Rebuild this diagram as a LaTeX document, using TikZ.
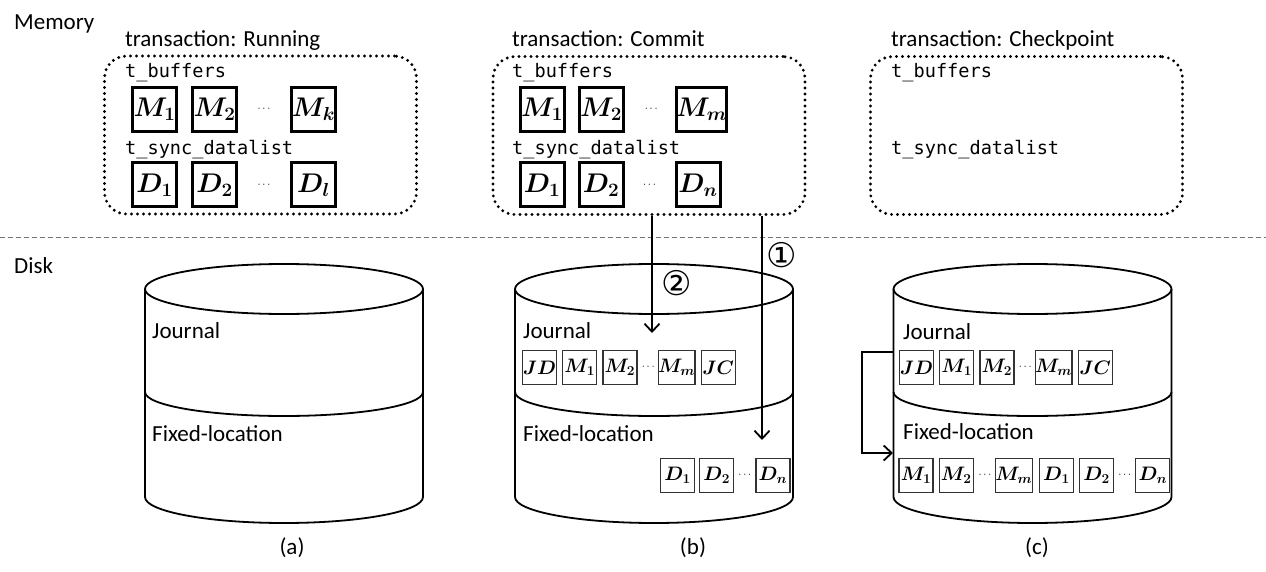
\RequirePackage{fix-cm}
\documentclass[tikz,border=0pt]{standalone}
\usepackage{bm}
\usepackage{fontspec}
\setmainfont{Carlito}
\newfontfamily\codefont{DejaVu Sans Mono}
\newfontfamily\symfont{DejaVu Sans}
\usetikzlibrary{positioning,calc,arrows.meta}

\begin{document}
\begin{tikzpicture}[x=1pt,y=-1pt,
  every node/.style={inner sep=0pt},
  txt/.style={anchor=base west,font=\fontsize{23}{27}\selectfont},
  mono/.style={anchor=base west,font=\codefont\fontsize{18.6}{22}\selectfont},
  tbox/.style={draw,line width=3.2pt,line cap=round,dash pattern=on 0pt off 6pt,
    rounded corners=22pt,minimum width=312pt,minimum height=158pt},
  mbox/.style={draw,line width=3pt,minimum size=44pt,font=\fontsize{27}{30}\selectfont},
  dbox/.style={draw=black!80,line width=1.2pt,minimum size=34pt,font=\fontsize{19.5}{22}\selectfont},
  dots/.style={font=\fontsize{11}{13}\selectfont},
  cyl/.style={line width=1.8pt},
  flowarrow/.style={line width=1.8pt,-{Straight Barb[length=8pt,width=15pt,line width=1.8pt]}},
  ]
  \useasboundingbox (0,0) rectangle (1266,572);

  % memory / disk
  \node[txt] (memlabel) at (14,30) {Memory};
  \node[txt] (disklabel) at (14,273) {Disk};
  \draw[black!55,line width=1pt,dash pattern=on 5pt off 3pt] (0,237) -- (1266,237);

  % (a) running
  \node[tbox] (mema) at (260.5,135) {};
  \node[txt] at (125,47) {transaction: Running};
  \node[mono] at (125,78) {t\_buffers};
  \node[mono] at (125,155) {t\_sync\_datalist};
  \node[mbox] (ma1) at (154.5,109.5) {$\bm{M_1}$};
  \node[mbox,right=13pt of ma1] (ma2) {$\bm{M_2}$};
  \node[mbox,right=52pt of ma2] (mak) {$\bm{M_k}$};
  \node[dots] at ($(ma2)!.5!(mak)$) {$\cdots$};
  \node[mbox] (da1) at (154.5,185) {$\bm{D_1}$};
  \node[mbox,right=13pt of da1] (da2) {$\bm{D_2}$};
  \node[mbox,right=52pt of da2] (dal) {$\bm{D_l}$};
  \node[dots] at ($(da2)!.5!(dal)$) {$\cdots$};

  % (b) commit
  \node[tbox] (memb) at (649,135.5) {};
  \node[txt] at (512,47) {transaction: Commit};
  \node[mono] at (512,78) {t\_buffers};
  \node[mono] at (512,155) {t\_sync\_datalist};
  \node[mbox] (mb1) at (542,109.5) {$\bm{M_1}$};
  \node[mbox,right=12pt of mb1] (mb2) {$\bm{M_2}$};
  \node[mbox,right=50pt of mb2] (mbm) {$\bm{M_m}$};
  \node[dots] at ($(mb2)!.5!(mbm)$) {$\cdots$};
  \node[mbox] (db1) at (542,185) {$\bm{D_1}$};
  \node[mbox,right=12pt of db1] (db2) {$\bm{D_2}$};
  \node[mbox,right=50pt of db2] (dbn) {$\bm{D_n}$};
  \node[dots] at ($(db2)!.5!(dbn)$) {$\cdots$};

  % (c) checkpoint
  \node[tbox] (memc) at (1026.5,135.5) {};
  \node[txt] at (891,47) {transaction: Checkpoint};
  \node[mono] at (891,78) {t\_buffers};
  \node[mono] at (891,155) {t\_sync\_datalist};

  % disks
  \foreach \cx/\lbl in {284/a,654/b,1032.5/c}{
    \draw[cyl] (\cx,289) ellipse [x radius=139pt,y radius=25pt];
    \draw[cyl] (\cx-139,289) -- (\cx-139,497)
      arc[start angle=180,end angle=360,x radius=139pt,y radius=26pt] -- (\cx+139,289);
    \draw[cyl] (\cx-139,392) arc[start angle=180,end angle=360,x radius=139pt,y radius=24pt];
  }
  \node[txt] at (152,338) {Journal};
  \node[txt] at (152,441) {Fixed-location};
  \node[txt] at (523,338) {Journal};
  \node[txt] at (523,441) {Fixed-location};
  \node[txt] at (903,339) {Journal};
  \node[txt] at (903,439) {Fixed-location};

  % journal and fixed-location blocks of (b)
  \node[dbox] (bjd) at (539.5,367.5) {$\bm{JD}$};
  \node[dbox,right=5pt of bjd] (bj1) {$\bm{M_1}$};
  \node[dbox,right=5pt of bj1] (bj2) {$\bm{M_2}$};
  \node[dbox,right=20pt of bj2] (bjm) {$\bm{M_m}$};
  \node[dbox,right=5pt of bjm] (bjc) {$\bm{JC}$};
  \node[dots] at ($(bj2)!.5!(bjm)$) {$\cdots$};
  \node[dbox] (bf1) at (677.5,475.5) {$\bm{D_1}$};
  \node[dbox,right=4pt of bf1] (bf2) {$\bm{D_2}$};
  \node[dbox,right=21pt of bf2] (bfn) {$\bm{D_n}$};
  \node[dots] at ($(bf2)!.5!(bfn)$) {$\cdots$};

  % journal and fixed-location blocks of (c)
  \node[dbox] (cjd) at (916.5,367.5) {$\bm{JD}$};
  \node[dbox,right=5pt of cjd] (cj1) {$\bm{M_1}$};
  \node[dbox,right=5pt of cj1] (cj2) {$\bm{M_2}$};
  \node[dbox,right=20pt of cj2] (cjm) {$\bm{M_m}$};
  \node[dbox,right=5pt of cjm] (cjc) {$\bm{JC}$};
  \node[dots] at ($(cj2)!.5!(cjm)$) {$\cdots$};
  \node[dbox] (cf1) at (916,475.5) {$\bm{M_1}$};
  \node[dbox,right=5pt of cf1] (cf2) {$\bm{M_2}$};
  \node[dbox,right=21pt of cf2] (cfm) {$\bm{M_m}$};
  \node[dbox,right=6pt of cfm] (cfd1) {$\bm{D_1}$};
  \node[dbox,right=5pt of cfd1] (cfd2) {$\bm{D_2}$};
  \node[dbox,right=21pt of cfd2] (cfdn) {$\bm{D_n}$};
  \node[dots] at ($(cf2)!.5!(cfm)$) {$\cdots$};
  \node[dots] at ($(cfd2)!.5!(cfdn)$) {$\cdots$};

  % write paths
  \coordinate (jtop) at (652,333);
  \coordinate (ftop) at (762,440);
  \draw[flowarrow] (memb.south -| jtop) -- (jtop);
  \draw[flowarrow] (memb.south -| ftop) -- (ftop);
  \node[font=\symfont\fontsize{34}{38}\selectfont] (step2) at (677,283) {②};
  \node[font=\symfont\fontsize{34}{38}\selectfont] (step1) at (782,255) {①};
  \coordinate (cout) at (893,352);
  \coordinate (cin) at (893,453);
  \draw[flowarrow] (cout) -- ++(-31,0) |- (cin);

  % captions
  \node[font=\fontsize{23}{27}\selectfont] (capa) at (292,548) {(a)};
  \node[font=\fontsize{23}{27}\selectfont] (capb) at (693,548) {(b)};
  \node[font=\fontsize{23}{27}\selectfont] (capc) at (1037,548) {(c)};
\end{tikzpicture}
\end{document}
